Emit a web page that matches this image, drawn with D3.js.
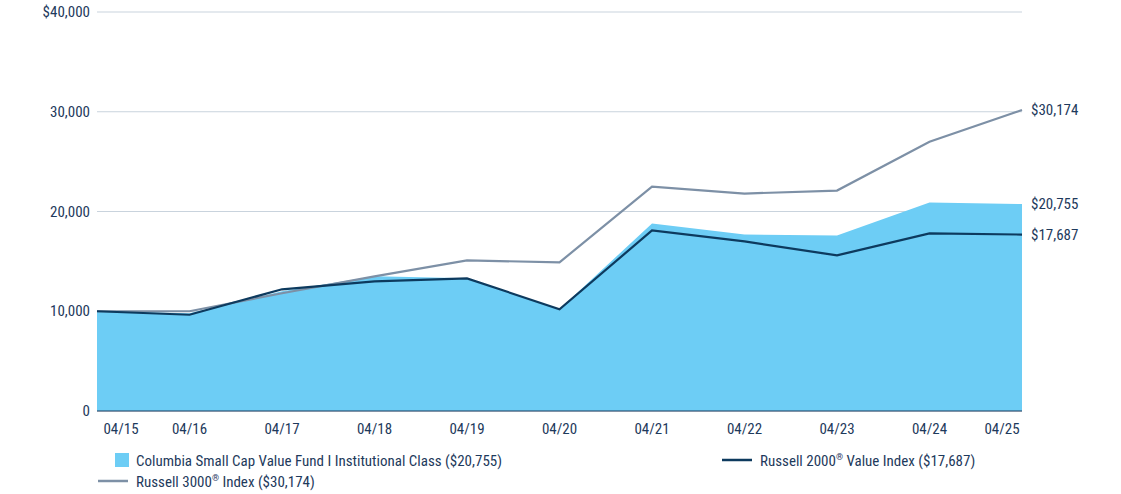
<!DOCTYPE html>
<html><head><meta charset="utf-8">
<script src="https://cdn.jsdelivr.net/npm/d3@7"></script>
<style>body{margin:0;background:#fff}text{font-family:"Liberation Sans Narrow","Roboto Condensed","Liberation Sans",sans-serif;fill:#1e3a5c}</style>
</head><body><svg id="c" width="1121" height="494"></svg>
<script>
const labels=["04/15","04/16","04/17","04/18","04/19","04/20","04/21","04/22","04/23","04/24","04/25"];
const fund=[10000,9800,12000,13500,13300,10200,18800,17700,17600,20900,20755];
const r2000=[10000,9650,12200,13000,13300,10200,18100,17000,15600,17800,17687];
const r3000=[10000,10000,11800,13500,15100,14900,22500,21800,22100,27000,30174];
const yTicks=[0,10000,20000,30000,40000];
const svg=d3.select("#c");
const x=d3.scaleLinear().domain([0,10]).range([97,1022]);
const y=d3.scaleLinear().domain([0,40000]).range([411,12]);
svg.selectAll("line.g").data(yTicks).join("line").attr("x1",97).attr("x2",1022)
 .attr("y1",d=>y(d)).attr("y2",d=>y(d)).attr("stroke","#c9d3dd").attr("stroke-width",1);
svg.selectAll("text.y").data(yTicks).join("text").attr("x",90).attr("y",d=>y(d)+5)
 .attr("text-anchor","end").attr("font-size",15).text(d=>d===40000?"$40,000":d3.format(",")(d));
const idx=d3.range(11);
svg.append("path").datum(idx).attr("fill","#6dcdf5")
 .attr("d",d3.area().x(i=>x(i)).y0(y(0)).y1(i=>y(fund[i])));
svg.append("path").datum(idx).attr("fill","none").attr("stroke","#7d90a6").attr("stroke-width",2.2)
 .attr("d",d3.line().x(i=>x(i)).y(i=>y(r3000[i])));
svg.append("path").datum(idx).attr("fill","none").attr("stroke","#0d3a5e").attr("stroke-width",2.2)
 .attr("d",d3.line().x(i=>x(i)).y(i=>y(r2000[i])));
svg.append("line").attr("x1",97).attr("x2",1022).attr("y1",y(0)).attr("y2",y(0)).attr("stroke","#1e3a5c");
svg.selectAll("text.x").data(idx).join("text").attr("y",434).attr("font-size",15)
 .attr("x",i=>i===0?x(i)+24:i===10?x(i)-20:x(i)).attr("text-anchor","middle").text(i=>labels[i]);
[[r3000[10],"$30,174"],[fund[10],"$20,755"],[r2000[10],"$17,687"]].forEach(([v,t])=>
 svg.append("text").attr("x",1031).attr("y",y(v)+5).attr("font-size",15).text(t));
// legend
svg.append("rect").attr("x",115).attr("y",453).attr("width",14).attr("height",14).attr("fill","#6dcdf5");
svg.append("text").attr("x",136).attr("y",466).attr("font-size",15).text("Columbia Small Cap Value Fund I Institutional Class ($20,755)");
svg.append("line").attr("x1",722).attr("x2",752).attr("y1",460).attr("y2",460).attr("stroke","#0d3a5e").attr("stroke-width",2.5);
const t2=svg.append("text").attr("x",760).attr("y",466).attr("font-size",15);
t2.append("tspan").text("Russell 2000");t2.append("tspan").attr("font-size",9).attr("dy",-6).text("®");
t2.append("tspan").attr("dy",6).text(" Value Index ($17,687)");
svg.append("line").attr("x1",98).attr("x2",128).attr("y1",481).attr("y2",481).attr("stroke","#7d90a6").attr("stroke-width",2.5);
const t3=svg.append("text").attr("x",136).attr("y",487).attr("font-size",15);
t3.append("tspan").text("Russell 3000");t3.append("tspan").attr("font-size",9).attr("dy",-6).text("®");
t3.append("tspan").attr("dy",6).text(" Index ($30,174)");
</script></body></html>
